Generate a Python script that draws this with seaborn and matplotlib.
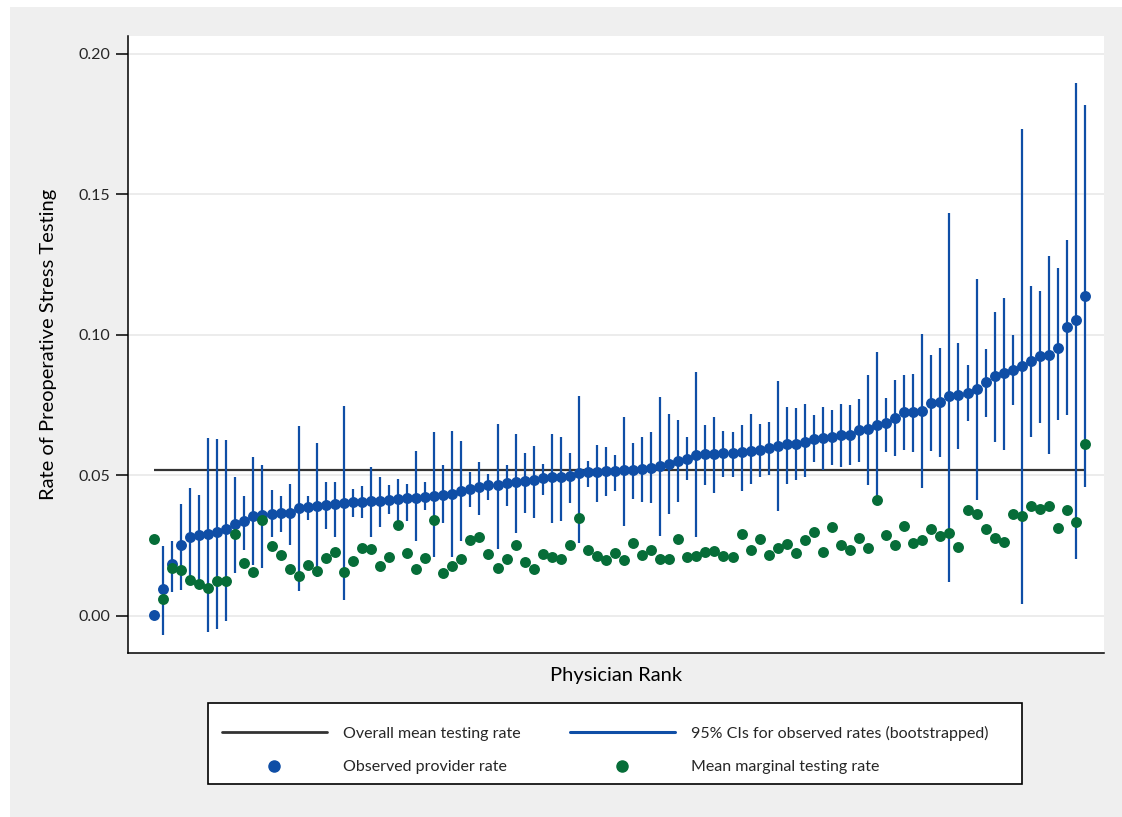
import numpy as np
import pandas as pd
import matplotlib.pyplot as plt
from matplotlib.lines import Line2D
from matplotlib.patches import Rectangle
import seaborn as sns

# Physicians ranked by observed rate of preoperative stress testing
observed = [0.0002, 0.0095, 0.0184, 0.0252, 0.0282, 0.0287, 0.0292, 0.0297, 0.0310, 0.0327,
            0.0336, 0.0356, 0.0359, 0.0363, 0.0365, 0.0368, 0.0383, 0.0388, 0.0392, 0.0396,
            0.0400, 0.0403, 0.0405, 0.0407, 0.0408, 0.0410, 0.0412, 0.0415, 0.0418, 0.0420,
            0.0423, 0.0427, 0.0430, 0.0433, 0.0446, 0.0450, 0.0460, 0.0465, 0.0467, 0.0472,
            0.0476, 0.0479, 0.0484, 0.0490, 0.0494, 0.0496, 0.0498, 0.0510, 0.0511, 0.0512,
            0.0514, 0.0516, 0.0518, 0.0520, 0.0523, 0.0528, 0.0533, 0.0540, 0.0550, 0.0558,
            0.0572, 0.0578, 0.0578, 0.0579, 0.0580, 0.0582, 0.0587, 0.0592, 0.0598, 0.0605,
            0.0611, 0.0613, 0.0620, 0.0629, 0.0632, 0.0635, 0.0643, 0.0644, 0.0662, 0.0664,
            0.0680, 0.0686, 0.0706, 0.0725, 0.0726, 0.0731, 0.0759, 0.0763, 0.0783, 0.0786,
            0.0794, 0.0808, 0.0834, 0.0854, 0.0865, 0.0876, 0.0890, 0.0906, 0.0925, 0.0928,
            0.0955, 0.1028, 0.1053, 0.1140]

ci_high = [np.nan, 0.0250, 0.0268, 0.0400, 0.0455, 0.0430, 0.0632, 0.0630, 0.0626, 0.0494,
           0.0425, 0.0566, 0.0537, 0.0448, 0.0427, 0.0470, 0.0677, 0.0428, 0.0617, 0.0476,
           0.0478, 0.0748, 0.0452, 0.0463, 0.0529, 0.0496, 0.0465, 0.0486, 0.0470, 0.0587,
           0.0478, 0.0654, 0.0537, 0.0658, 0.0623, 0.0511, 0.0548, 0.0505, 0.0683, 0.0536,
           0.0649, 0.0579, 0.0606, 0.0539, 0.0647, 0.0637, 0.0581, 0.0783, 0.0551, 0.0607,
           0.0600, 0.0573, 0.0709, 0.0617, 0.0638, 0.0655, 0.0780, 0.0719, 0.0698, 0.0638,
           0.0867, 0.0680, 0.0709, 0.0658, 0.0656, 0.0680, 0.0718, 0.0682, 0.0691, 0.0836,
           0.0745, 0.0741, 0.0753, 0.0715, 0.0745, 0.0733, 0.0754, 0.0751, 0.0773, 0.0858,
           0.0940, 0.0777, 0.0840, 0.0858, 0.0861, 0.1002, 0.0929, 0.0954, 0.1434, 0.0970,
           0.0892, 0.1199, 0.0950, 0.1083, 0.1133, 0.0998, 0.1734, 0.1174, 0.1158, 0.1280,
           0.1237, 0.1339, 0.1898, 0.1819]

ci_low = [np.nan, -0.0068, 0.0084, 0.0093, 0.0128, 0.0110, -0.0058, -0.0046, -0.0017, 0.0154,
          0.0235, 0.0180, 0.0172, 0.0282, 0.0297, 0.0253, 0.0087, 0.0342, 0.0140, 0.0309,
          0.0282, 0.0057, 0.0353, 0.0348, 0.0282, 0.0316, 0.0362, 0.0327, 0.0336, 0.0265,
          0.0377, 0.0208, 0.0330, 0.0211, 0.0268, 0.0387, 0.0358, 0.0413, 0.0237, 0.0391,
          0.0294, 0.0368, 0.0348, 0.0431, 0.0330, 0.0339, 0.0401, 0.0259, 0.0460, 0.0405,
          0.0425, 0.0445, 0.0321, 0.0416, 0.0405, 0.0401, 0.0285, 0.0363, 0.0407, 0.0484,
          0.0280, 0.0466, 0.0439, 0.0496, 0.0496, 0.0446, 0.0469, 0.0496, 0.0502, 0.0372,
          0.0469, 0.0484, 0.0496, 0.0546, 0.0520, 0.0537, 0.0529, 0.0537, 0.0548, 0.0467,
          0.0413, 0.0585, 0.0569, 0.0591, 0.0585, 0.0454, 0.0587, 0.0565, 0.0122, 0.0595,
          0.0692, 0.0413, 0.0708, 0.0620, 0.0590, 0.0749, 0.0041, 0.0637, 0.0688, 0.0575,
          0.0697, 0.0715, 0.0204, 0.0459]

marginal = [0.0275, 0.0060, 0.0170, 0.0164, 0.0126, 0.0112, 0.0101, 0.0123, 0.0123, 0.0292,
            0.0190, 0.0157, 0.0342, 0.0248, 0.0215, 0.0168, 0.0142, 0.0181, 0.0160, 0.0205,
            0.0229, 0.0155, 0.0196, 0.0243, 0.0237, 0.0179, 0.0209, 0.0324, 0.0225, 0.0166,
            0.0205, 0.0342, 0.0152, 0.0176, 0.0204, 0.0270, 0.0280, 0.0221, 0.0171, 0.0202,
            0.0254, 0.0192, 0.0168, 0.0221, 0.0209, 0.0204, 0.0252, 0.0350, 0.0235, 0.0214,
            0.0198, 0.0223, 0.0199, 0.0259, 0.0217, 0.0235, 0.0202, 0.0202, 0.0275, 0.0211,
            0.0213, 0.0227, 0.0231, 0.0214, 0.0209, 0.0293, 0.0235, 0.0272, 0.0217, 0.0241,
            0.0256, 0.0225, 0.0270, 0.0300, 0.0229, 0.0316, 0.0253, 0.0235, 0.0276, 0.0243,
            0.0413, 0.0288, 0.0252, 0.0320, 0.0259, 0.0270, 0.0311, 0.0286, 0.0296, 0.0245,
            0.0377, 0.0361, 0.0311, 0.0279, 0.0263, 0.0361, 0.0357, 0.0391, 0.0382, 0.0391,
            0.0313, 0.0377, 0.0334, 0.0613]

overall_mean = 0.052

df = pd.DataFrame({
    "rank": np.arange(1, len(observed) + 1),
    "observed": observed,
    "ci_low": ci_low,
    "ci_high": ci_high,
    "marginal": marginal,
})

blue = "#0f4ea6"
green = "#066d38"

sns.set_theme(style="white")
plt.rcParams['font.family'] = ['Lato', 'DejaVu Sans']

fig = plt.figure(figsize=(11.22, 8.17), dpi=100)
fig.patch.set_facecolor("white")
# grey graph region, Stata style
fig.patches.append(Rectangle((10 / 1122, 0), 1 - 10 / 1122, 1 - 7 / 817,
                             transform=fig.transFigure, facecolor="#efefef",
                             edgecolor="none", zorder=-10))

ax = fig.add_axes([128 / 1122, 1 - 652.7 / 817, 976 / 1122, 616.7 / 817])
ax.set_facecolor("white")

# gridlines
for yv in [0.0, 0.05, 0.10, 0.15, 0.20]:
    ax.axhline(yv, color="#eaeaea", lw=1.3, zorder=0)

# overall mean
ax.hlines(overall_mean, df["rank"].min(), df["rank"].max(), color="#333333", lw=1.6, zorder=1)

# bootstrapped CIs
ci = df.dropna(subset=["ci_low"])
ax.vlines(ci["rank"], ci["ci_low"], ci["ci_high"], color=blue, lw=1.6, zorder=2)

sns.scatterplot(data=df, x="rank", y="observed", color=blue, s=62, linewidth=0,
                ax=ax, zorder=3, legend=False)
sns.scatterplot(data=df, x="rank", y="marginal", color=green, s=62, linewidth=0,
                ax=ax, zorder=4, legend=False)

ax.set_xlim(-1.88, 106.1)
ax.set_ylim(-0.0131, 0.2064)
ax.set_yticks([0.0, 0.05, 0.10, 0.15, 0.20])
ax.set_yticklabels(["0.00", "0.05", "0.10", "0.15", "0.20"], fontsize=11.5)
ax.set_xticks([])
ax.tick_params(axis="y", direction="out", length=9, width=1.1, color="black", pad=4, left=True)

for side in ["top", "right"]:
    ax.spines[side].set_visible(False)
for side in ["left", "bottom"]:
    ax.spines[side].set_color("black")
    ax.spines[side].set_linewidth(1.1)

ax.set_ylabel("Rate of Preoperative Stress Testing", fontsize=14.5, labelpad=15, color="black")
ax.set_xlabel("Physician Rank", fontsize=14.5, labelpad=10, color="black")

# legend box drawn separately so its size matches the original
fig.patches.append(Rectangle((208 / 1122, 1 - 784 / 817), 814 / 1122, 81 / 817,
                             transform=fig.transFigure, facecolor="white",
                             edgecolor="black", lw=1.2, zorder=5))

handles = [
    Line2D([], [], color="#333333", lw=2),
    Line2D([], [], ls="none", marker="o", markersize=8, color=blue),
    Line2D([], [], color=blue, lw=2.2),
    Line2D([], [], ls="none", marker="o", markersize=8, color=green),
]
labels = ["Overall mean testing rate", "Observed provider rate",
          "95% CIs for observed rates (bootstrapped)", "Mean marginal testing rate"]
leg = fig.legend(handles, labels, ncol=2, loc="upper left",
                 bbox_to_anchor=(222 / 1122, 1 - 726 / 817),
                 borderaxespad=0, borderpad=0, fontsize=11.5, frameon=False,
                 handlelength=6.56, handletextpad=1.0, labelspacing=1.2,
                 columnspacing=3.1)
leg.set_zorder(6)

fig.savefig("out.png", dpi=100)
